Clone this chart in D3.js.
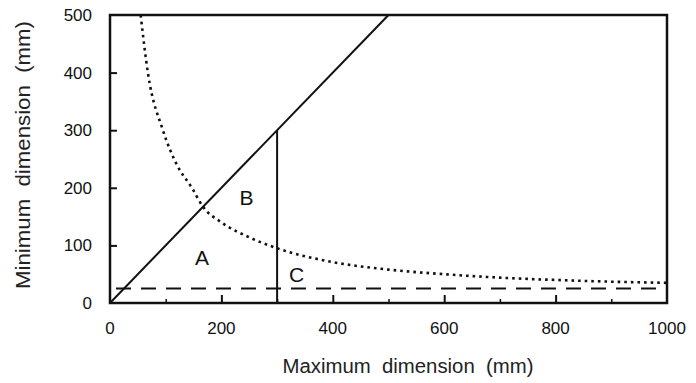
<!DOCTYPE html>
<html>
<head>
<meta charset="utf-8">
<script src="https://cdn.jsdelivr.net/npm/d3@7"></script>
<style>
    html, body { margin: 0; padding: 0; background: #fff; }
    svg { display: block; font-family: "Liberation Sans", Arial, sans-serif; }
    .title { white-space: pre; }
</style>
</head>
<body>
<div id="chart"></div>
<script>
// Chart data
const xTicks = [0, 200, 400, 600, 800, 1000];
const xMinorTicks = [100, 300, 500, 700, 900];
const yTicks = [0, 100, 200, 300, 400, 500];
const diagonal = [[0, 0], [500, 500]];          // min = max
const cutoff = [[300, 0], [300, 300]];          // max dimension = 300
const floorLine = [[0, 25], [1000, 25]];        // min dimension = 25
// dotted curve
const curveX = [55, 68, 95, 120, 147, 167, 200, 250, 300, 400, 500, 600, 700, 800, 900, 1000];
const curveY = [500, 400, 300, 240, 200, 167, 140, 114, 95, 71, 58, 50, 44, 40, 37, 35];
const regionNames = ["A", "B", "C"];
const regionX = [165, 245, 335];
const regionY = [78, 182, 48];

// Layout
const width = 696, height = 383;
const margin = { top: 15, right: 29, bottom: 80, left: 110 };
const ink = "#111";

const svg = d3.select("#chart")
    .append("svg")
    .attr("width", width)
    .attr("height", height);

const x = d3.scaleLinear().domain([0, 1000]).range([margin.left, width - margin.right]);
const y = d3.scaleLinear().domain([0, 500]).range([height - margin.bottom, margin.top]);

const line = d3.line().x(d => x(d[0])).y(d => y(d[1]));

// Ticks (pointing inward)
svg.append("g")
    .attr("transform", `translate(0,${y(0)})`)
    .call(d3.axisTop(x).tickValues(xTicks.slice(1, -1)).tickSize(8).tickFormat(""))
    .call(g => g.select(".domain").remove())
    .selectAll("line").attr("stroke", ink).attr("stroke-width", 2);

svg.append("g")
    .attr("transform", `translate(0,${y(0)})`)
    .call(d3.axisTop(x).tickValues(xMinorTicks).tickSize(4).tickFormat(""))
    .call(g => g.select(".domain").remove())
    .selectAll("line").attr("stroke", ink).attr("stroke-width", 1.5);

svg.append("g")
    .attr("transform", `translate(${x(0)},0)`)
    .call(d3.axisRight(y).tickValues(yTicks.slice(1, -1)).tickSize(7).tickFormat(""))
    .call(g => g.select(".domain").remove())
    .selectAll("line").attr("stroke", ink).attr("stroke-width", 2);

// Tick labels
svg.append("g")
    .selectAll("text")
    .data(xTicks)
    .join("text")
    .attr("x", d => x(d))
    .attr("y", 334)
    .attr("text-anchor", "middle")
    .attr("font-size", 17)
    .attr("fill", ink)
    .text(d => d);

svg.append("g")
    .selectAll("text")
    .data(yTicks)
    .join("text")
    .attr("x", 92)
    .attr("y", d => y(d) + 6)
    .attr("text-anchor", "end")
    .attr("font-size", 17)
    .attr("fill", ink)
    .text(d => d);

// Axis titles
svg.append("text")
    .attr("class", "title")
    .attr("x", 408)
    .attr("y", 373)
    .attr("text-anchor", "middle")
    .attr("font-size", 20)
    .attr("textLength", 251)
    .attr("lengthAdjust", "spacingAndGlyphs")
    .attr("fill", "#222")
    .text("Maximum  dimension  (mm)");

svg.append("text")
    .attr("class", "title")
    .attr("transform", `translate(30,155) rotate(-90)`)
    .attr("text-anchor", "middle")
    .attr("font-size", 20)
    .attr("textLength", 268)
    .attr("lengthAdjust", "spacingAndGlyphs")
    .attr("fill", "#222")
    .text("Minimum  dimension  (mm)");

// Lines
svg.append("path")
    .datum(diagonal)
    .attr("d", line)
    .attr("fill", "none")
    .attr("stroke", ink)
    .attr("stroke-width", 2);

svg.append("path")
    .datum(cutoff)
    .attr("d", line)
    .attr("fill", "none")
    .attr("stroke", ink)
    .attr("stroke-width", 2);

svg.append("path")
    .datum(floorLine)
    .attr("d", line)
    .attr("fill", "none")
    .attr("stroke", ink)
    .attr("stroke-width", 2)
    .attr("stroke-dasharray", "15,10")
    .attr("stroke-dashoffset", -6);

svg.append("path")
    .datum(d3.zip(curveX, curveY))
    .attr("d", line.curve(d3.curveMonotoneX))
    .attr("fill", "none")
    .attr("stroke", ink)
    .attr("stroke-width", 2.6)
    .attr("stroke-dasharray", "2.6,4");

// Region labels
svg.append("g")
    .selectAll("text")
    .data(regionNames)
    .join("text")
    .attr("x", (d, i) => x(regionX[i]))
    .attr("y", (d, i) => y(regionY[i]) + 7)
    .attr("text-anchor", "middle")
    .attr("font-size", 21)
    .attr("fill", ink)
    .text(d => d);

// Frame
svg.append("rect")
    .attr("x", x(0))
    .attr("y", y(500))
    .attr("width", x(1000) - x(0))
    .attr("height", y(0) - y(500))
    .attr("fill", "none")
    .attr("stroke", ink)
    .attr("stroke-width", 2.5);
</script>
</body>
</html>
